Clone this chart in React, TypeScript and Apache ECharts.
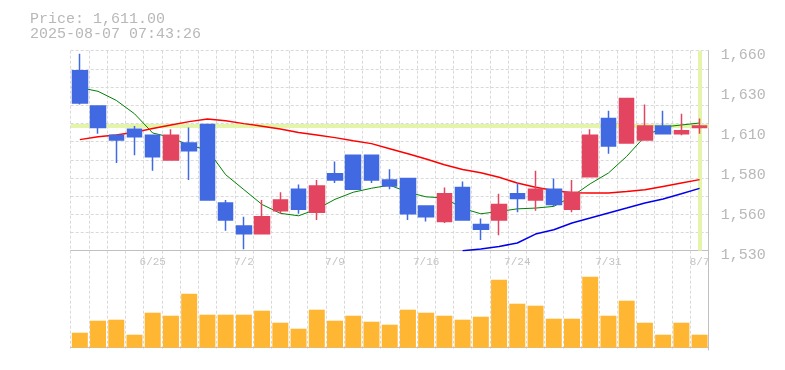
import React, { useEffect, useRef } from 'react';
import * as echarts from 'echarts';

const dates = ['6/19','6/20','6/23','6/24','6/25','6/26','6/27','6/30','7/1','7/2','7/3','7/4','7/7','7/8','7/9','7/10','7/11','7/14','7/15','7/16','7/17','7/18','7/22','7/23','7/24','7/25','7/28','7/29','7/30','7/31','8/1','8/4','8/5','8/6','8/7'];
const labeledDates = ['6/25','7/2','7/9','7/16','7/24','7/31','8/7'];

const opens  = [1647,1624,1605,1609,1605,1589,1600,1612,1561,1546,1541,1556,1570,1555,1580,1592,1592,1576,1577,1559,1549,1571,1547,1550,1567,1563,1570,1557,1578,1616,1600,1602,1611,1606,1610];
const closes = [1626,1610,1602,1604,1591,1605,1595,1563,1550,1541,1552,1563,1557,1572,1576,1570,1576,1572,1554,1552,1567,1550,1544,1560,1564,1570,1560,1568,1605,1598,1629,1611,1606,1608,1611];
const lows   = [1625,1606,1587,1592,1582,1589,1576,1563,1543,1531,1541,1554,1554,1550,1574,1570,1574,1570,1550,1549,1548,1550,1537,1540,1555,1556,1559,1555,1578,1593,1600,1602,1606,1605,1606];
const highs  = [1658,1624,1605,1611,1605,1609,1610,1612,1563,1552,1563,1568,1573,1576,1588,1592,1592,1583,1577,1559,1571,1575,1551,1567,1574,1582,1577,1576,1609,1621,1629,1625,1621,1619,1616];

const maShort = [1636,1633.6,1627.7,1619,1606.5,1603.7,1598.3,1595.7,1579.4,1569.7,1560,1554.3,1552.7,1557,1563.4,1568,1570.6,1572.6,1568,1565,1564.3,1557.5,1554,1555.5,1557.2,1557.7,1558.8,1565.3,1573.5,1580.5,1591.3,1604.3,1610.4,1611.7,1613];
const maMid = [1602.2,1604.1,1605.2,1607,1609.5,1611.7,1613.9,1615.6,1614.5,1612.6,1610.9,1609.1,1606.8,1605.2,1603.5,1601.5,1599.6,1596.3,1593,1589.6,1585.9,1582.8,1580.7,1577.7,1574,1571.2,1569.2,1567.7,1567.5,1567.5,1568.5,1569.6,1571.8,1574,1576.2];
const maLong = [null,null,null,null,null,null,null,null,null,null,null,null,null,null,null,null,null,null,null,null,null,1530,1531.1,1532.8,1535,1540.8,1543.6,1548,1551.2,1554.5,1557.7,1561,1563.6,1567,1570.5];

const volumes = [15,27,28,13,35,32,54,33,33,33,37,25,19,38,27,32,26,23,38,35,32,28,31,68,44,42,29,29,71,32,47,25,13,25,13];

const priceMin = 1530;
const priceMax = 1660;
const priceStep = 26;
const priceTicks = ['1,530','1,560','1,580','1,610','1,630','1,660'];
const lastPrice = 1611;
const headerPrice = 'Price: 1,611.00';
const headerTime = '2025-08-07 07:43:26';

const FONT = '"Liberation Mono", "DejaVu Sans Mono", monospace';
const GRID_COLOR = '#d9d9d9';
const AXIS_COLOR = '#c0c0c0';
const TEXT_COLOR = '#b8b8b8';
const UP = '#e3445f';
const DOWN = '#4169e1';

export default function App() {
  const ref = useRef<HTMLDivElement>(null);
  useEffect(() => {
    if (!ref.current) return;
    const chart = echarts.init(ref.current, undefined, { renderer: 'svg' });
    const left = 70.7, width = 638, pTop = 50.7, pH = 200, vH = 99.3;
    const dashed = { color: GRID_COLOR, type: [3, 2] as any, width: 1 };
    chart.setOption({
      animation: false,
      graphic: [
        { type: 'text', x: 30, y: 19, style: { text: headerPrice, fill: TEXT_COLOR, fontSize: 15, lineHeight: 13, fontFamily: FONT, verticalAlign: 'middle' } },
        { type: 'text', x: 30, y: 34, style: { text: headerTime, fill: TEXT_COLOR, fontSize: 15, lineHeight: 13, fontFamily: FONT, verticalAlign: 'middle' } },
      ],
      grid: [
        { left, top: pTop, width, height: pH, show: false },
        { left, top: pTop + pH, width, height: vH, show: false },
      ],
      xAxis: [
        {
          type: 'category', gridIndex: 0, data: dates, boundaryGap: true,
          axisLine: { show: true, lineStyle: { color: AXIS_COLOR, width: 1 } },
          axisTick: { show: false, interval: 0 },
          axisLabel: {
            interval: (_i: number, v: string) => labeledDates.includes(v),
            color: '#c4c4c4', fontFamily: FONT, fontSize: 11, margin: 6,
          },
          splitLine: { show: true, interval: 0, lineStyle: dashed },
        },
        {
          type: 'category', gridIndex: 1, data: dates, boundaryGap: true,
          axisLine: { show: true, lineStyle: { color: AXIS_COLOR, width: 1 } },
          axisTick: { show: false, interval: 0 },
          axisLabel: { show: false },
          splitLine: { show: true, interval: 0, lineStyle: dashed },
        },
      ],
      yAxis: [
        {
          type: 'value', gridIndex: 0, position: 'right', min: priceMin, max: priceMax, interval: priceStep,
          axisLine: { show: true, lineStyle: { color: AXIS_COLOR, width: 1 } },
          axisTick: { show: false },
          splitLine: { show: false },
          axisLabel: {
            formatter: (v: number) => priceTicks[Math.round((v - priceMin) / priceStep)] ?? '',
            color: TEXT_COLOR, fontFamily: FONT, fontSize: 15, margin: 12,
            verticalAlign: 'top', lineHeight: 9,
          },
        },
        {
          type: 'value', gridIndex: 0, position: 'left', min: 0, max: 11, interval: 1,
          axisLine: { show: false }, axisTick: { show: false }, axisLabel: { show: false },
          splitLine: { show: true, lineStyle: dashed },
        },
        {
          type: 'value', gridIndex: 1, position: 'right', min: -2.3, max: 97,
          axisLine: { show: true, lineStyle: { color: AXIS_COLOR, width: 1 } },
          axisTick: { show: false }, axisLabel: { show: false }, splitLine: { show: false },
        },
      ],
      series: [
        {
          type: 'line', name: 'MA short', xAxisIndex: 0, yAxisIndex: 0, data: maShort,
          symbol: 'none', z: 2, lineStyle: { color: '#008000', width: 1 }, itemStyle: { color: '#008000' },
          markLine: {
            z: 1, silent: true, symbol: ['none', 'none'], label: { show: false },
            lineStyle: { color: '#e4f5ab', width: 4, type: 'solid' },
            emphasis: { disabled: true },
            data: [{ yAxis: lastPrice }, { xAxis: dates[dates.length - 1] }],
          },
        },
        {
          type: 'line', name: 'MA mid', xAxisIndex: 0, yAxisIndex: 0, data: maMid,
          symbol: 'none', z: 2, lineStyle: { color: '#ff0000', width: 1.5 }, itemStyle: { color: '#ff0000' },
        },
        {
          type: 'line', name: 'MA long', xAxisIndex: 0, yAxisIndex: 0, data: maLong,
          symbol: 'none', z: 2, lineStyle: { color: '#0000ee', width: 1.5 }, itemStyle: { color: '#0000ee' },
        },
        {
          type: 'candlestick', xAxisIndex: 0, yAxisIndex: 0, z: 3, barWidth: 15,
          data: dates.map((_, i) => [opens[i], closes[i], lows[i], highs[i]]),
          itemStyle: { color: UP, color0: DOWN, borderColor: UP, borderColor0: DOWN, borderWidth: 1.5 },
        },
        {
          type: 'bar', xAxisIndex: 1, yAxisIndex: 2, data: volumes, barWidth: 16, z: 2,
          itemStyle: { color: '#ffb733' },
        },
      ],
    });
    return () => chart.dispose();
  }, []);
  return <div ref={ref} style={{ position: 'fixed', left: 0, top: 0, width: 785, height: 370 }} />;
}
